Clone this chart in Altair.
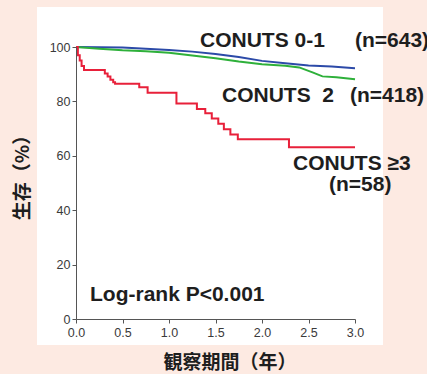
import altair as alt
import pandas as pd

# ---- data ----
blue_t = [0, 0.25, 0.5, 0.75, 1.0, 1.25, 1.5, 1.75, 2.0, 2.25, 2.5, 2.75, 3.0]
blue_v = [100, 99.9, 99.8, 99.4, 98.9, 98.3, 97.4, 96.3, 94.9, 94.0, 93.2, 92.8, 92.2]

green_t = [0, 0.25, 0.5, 0.75, 1.0, 1.25, 1.5, 1.75, 2.0, 2.25, 2.4, 2.55, 2.65, 2.8, 3.0]
green_v = [100, 99.4, 98.8, 98.4, 97.9, 96.9, 95.9, 94.7, 93.7, 93.1, 92.5, 90.6, 89.2, 88.9, 88.1]

red_t = [0, 0.02, 0.04, 0.06, 0.086, 0.31, 0.34, 0.37, 0.40, 0.42, 0.68, 0.77, 1.08,
         1.30, 1.39, 1.46, 1.53, 1.59, 1.66, 1.74, 2.29, 3.0]
red_v = [100, 97, 95, 93, 91.5, 90.3, 89.2, 88, 87, 86.5, 85.2, 83.2, 79.2,
         77.2, 75.6, 73.7, 71.8, 69.8, 67.8, 66.1, 63.1, 63.1]

x_ticks = [0.0, 0.5, 1.0, 1.5, 2.0, 2.5, 3.0]
y_ticks = [0, 20, 40, 60, 80, 100]

x_title = "観察期間（年）"
y_title = "生存（%）"

BG = "#FDEAE2"
W, H = 279, 272

blue_df = pd.DataFrame({"t": blue_t, "v": blue_v})
green_df = pd.DataFrame({"t": green_t, "v": green_v})
red_df = pd.DataFrame({"t": red_t, "v": red_v})

xs = alt.Scale(domain=[0, 3], nice=False)
ys = alt.Scale(domain=[0, 100], nice=False)

axis_common = dict(
    domainColor="#555555", tickColor="#555555", labelColor="#3A3A3A",
    labelFont="Liberation Sans", labelFontSize=12.5, title=None, grid=False,
    tickSize=4, domainWidth=1, zindex=1, labelFlush=False, labelOverlap=False,
)

panel = alt.Chart(pd.DataFrame({"a": [0]})).mark_rect(color="white").encode(
    x=alt.value(-39), x2=alt.value(307), y=alt.value(-40), y2=alt.value(298)
)

def line(df, color, interp):
    return alt.Chart(df).mark_line(color=color, strokeWidth=2, interpolate=interp, clip=False).encode(
        x=alt.X("t:Q", scale=xs, axis=alt.Axis(values=x_ticks, format=".1f", labelPadding=3, **axis_common)),
        y=alt.Y("v:Q", scale=ys, axis=alt.Axis(values=y_ticks, format="d", labelPadding=2, **axis_common)),
    )

blue = line(blue_df, "#2C4AA8", "linear")
green = line(green_df, "#2EB03A", "linear")
red = line(red_df, "#E8203A", "step-after")

def txt(s, x, y, size=21, align="left", font="Liberation Sans", weight="bold", angle=0):
    kw = dict(text=s, fontSize=size, align=align, baseline="middle", font=font,
              fontWeight=weight, color="#1E1E1E")
    if angle:
        kw["angle"] = angle
    return alt.Chart(pd.DataFrame({"a": [0]})).mark_text(**kw).encode(
        x=alt.value(x), y=alt.value(y)
    )

NB = "\u00a0"
labels = [
    txt("CONUTS 0-1", 124, -6),
    txt("(n=643)", 279, -6),
    txt("CONUTS" + NB + NB + "2", 146, 49),
    txt("(n=418)", 274, 49),
    txt("CONUTS ≥3", 217, 117),
    txt("(n=58)", 253, 138),
    txt("Log-rank P<0.001", 14, 248),
    txt(x_title, 154, 316, size=19, align="center", font="Noto Sans CJK JP"),
    txt(y_title, -53, 126, size=19, align="center", font="Noto Sans CJK JP", angle=270),
]

chart = alt.layer(panel, blue, green, red, *labels).properties(
    width=W, height=H, background=BG,
    padding={"left": 76, "top": 47, "right": 72, "bottom": 55},
    autosize=alt.AutoSizeParams(type="none"),
).configure_view(stroke=None)

chart.save("out.html", embed_options={"renderer": "svg", "actions": False})
